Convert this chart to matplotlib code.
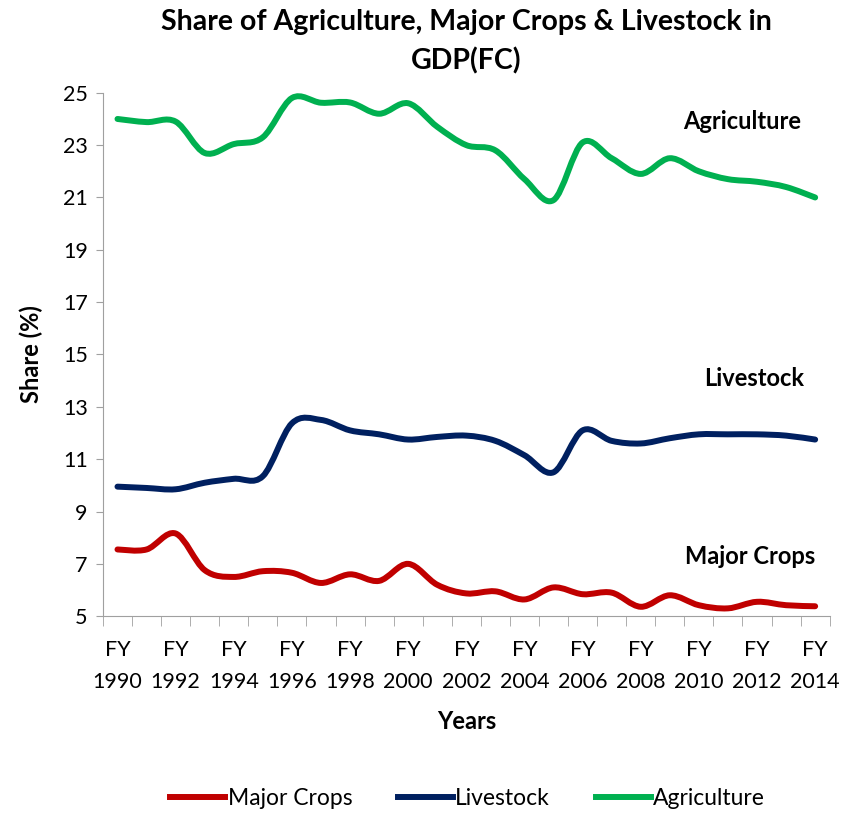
import matplotlib
matplotlib.use("Agg")
import matplotlib.pyplot as plt
from matplotlib.path import Path
from matplotlib.patches import PathPatch
from matplotlib.lines import Line2D

plt.rcParams['font.family'] = ['Lato', 'DejaVu Sans']

# Datos
years = list(range(1990, 2015))
major_crops = [7.55, 7.55, 8.16, 6.76, 6.5, 6.72, 6.66, 6.27, 6.6, 6.35, 7.0, 6.2, 5.87,
               5.95, 5.64, 6.1, 5.84, 5.9, 5.36, 5.8, 5.42, 5.3, 5.55, 5.42, 5.38]
livestock = [9.95, 9.9, 9.85, 10.1, 10.25, 10.35, 12.37, 12.5, 12.1, 11.95, 11.75, 11.85, 11.9,
             11.7, 11.15, 10.5, 12.1, 11.7, 11.6, 11.8, 11.95, 11.95, 11.95, 11.9, 11.75]
agriculture = [24.0, 23.88, 23.9, 22.7, 23.04, 23.3, 24.8, 24.62, 24.63, 24.2, 24.6, 23.7, 23.0,
               22.8, 21.7, 20.9, 23.1, 22.5, 21.9, 22.5, 22.0, 21.7, 21.6, 21.4, 21.0]

series_names = ["Major Crops", "Livestock", "Agriculture"]
series_colors = ["#C00000", "#002060", "#00B050"]


def smooth_path(xs, ys):
    # curva suavizada tipo Excel con segmentos Bezier cubicos
    n = len(xs)
    pts = list(zip(xs, ys))
    verts = [pts[0]]
    codes = [Path.MOVETO]
    for i in range(n - 1):
        p0 = pts[i - 1] if i > 0 else pts[i]
        p1 = pts[i]
        p2 = pts[i + 1]
        p3 = pts[i + 2] if i + 2 < n else pts[i + 1]
        c1 = (p1[0] + (p2[0] - p0[0]) / 6, p1[1] + (p2[1] - p0[1]) / 6)
        c2 = (p2[0] - (p3[0] - p1[0]) / 6, p2[1] - (p3[1] - p1[1]) / 6)
        verts += [c1, c2, p2]
        codes += [Path.CURVE4, Path.CURVE4, Path.CURVE4]
    return Path(verts, codes)


fig = plt.figure(figsize=(8.58, 8.14), dpi=100)
ax = fig.add_axes([0.12, 0.243, 0.847, 0.643])

idx = list(range(len(years)))
handles = []
for name, vals, col in zip(series_names, [major_crops, livestock, agriculture], series_colors):
    patch = PathPatch(smooth_path(idx, vals), facecolor="none", edgecolor=col,
                      lw=4.3, capstyle="round", joinstyle="round")
    ax.add_patch(patch)
    handles.append(Line2D([], [], color=col, lw=4.3, label=name))

ax.set_xlim(-0.5, len(years) - 0.5)
ax.set_ylim(5, 25)
ax.set_yticks(range(5, 26, 2))
ax.set_xticks(idx[::2])
ax.set_xticklabels(["FY\n%d" % y for y in years[::2]], linespacing=1.75)
ax.set_xticks([i - 0.5 for i in range(len(years) + 1)], minor=True)
ax.tick_params(axis="x", which="major", length=0, pad=17, labelsize=15.5)
ax.tick_params(axis="x", which="minor", length=7, color="#a0a0a0", direction="out")
ax.tick_params(axis="y", length=5, color="#a0a0a0", labelsize=15.5, pad=6)

for s in ["top", "right"]:
    ax.spines[s].set_visible(False)
for s in ["left", "bottom"]:
    ax.spines[s].set_color("#a0a0a0")

ax.set_title("Share of Agriculture, Major Crops & Livestock in\nGDP(FC)",
             fontsize=20.5, fontweight="bold", pad=17, linespacing=1.55)
ax.set_ylabel("Share (%)", fontsize=17, fontweight="bold", labelpad=14)
ax.set_xlabel("Years", fontsize=17, fontweight="bold", labelpad=13)

ax.text(21.5, 23.9, "Agriculture", fontsize=17, fontweight="bold", ha="center", va="center")
ax.text(21.9, 14.1, "Livestock", fontsize=17, fontweight="bold", ha="center", va="center")
ax.text(21.75, 7.3, "Major Crops", fontsize=17, fontweight="bold", ha="center", va="center")

fig.legend(handles=handles, loc="center", bbox_to_anchor=(0.545, 0.019), ncol=3,
           frameon=False, fontsize=16.5, handlelength=2.4, handletextpad=0.1, columnspacing=2.0)

plt.savefig("out.png")
